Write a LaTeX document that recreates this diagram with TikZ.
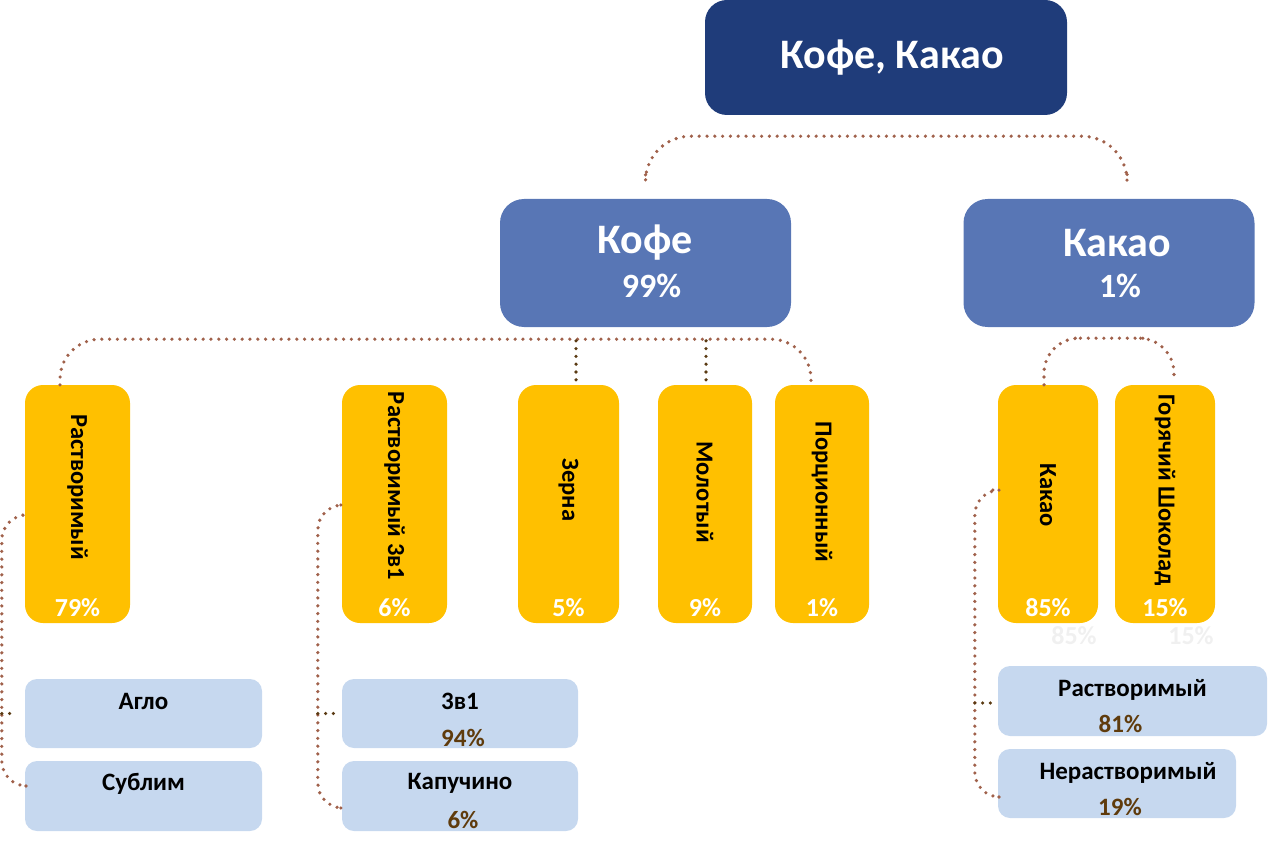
\documentclass[tikz,border=0pt]{standalone}
\usepackage{fontspec}
\setmainfont{Carlito}
\usepackage{tikz}
\definecolor{navy}{HTML}{1F3C7A}
\definecolor{midblue}{HTML}{5876B5}
\definecolor{amber}{HTML}{FFC000}
\definecolor{paleblue}{HTML}{C6D8EF}
\definecolor{dotbrown}{HTML}{A0614B}
\definecolor{stubbrown}{HTML}{5A3A12}
\definecolor{pctbrown}{HTML}{5F3B0C}

\begin{document}
\begin{tikzpicture}[x=1pt,y=-1pt,
    topbox/.style={rectangle,rounded corners=22,fill=navy,minimum width=362,minimum height=115},
    groupbox/.style={rectangle,rounded corners=24,fill=midblue,minimum width=291,minimum height=128},
    catbox/.style={rectangle,rounded corners=18,fill=amber,minimum height=238},
    subbox/.style={rectangle,rounded corners=12,fill=paleblue},
    bigtext/.style={text=white,font=\bfseries\fontsize{42}{48}\selectfont},
    midtext/.style={text=white,font=\bfseries\fontsize{34}{40}\selectfont},
    vtext/.style={rotate=-90,font=\bfseries\fontsize{24.5}{30}\selectfont},
    cattext/.style={text=white,font=\bfseries\fontsize{26}{30}\selectfont},
    subtext/.style={font=\bfseries\fontsize{25}{30}\selectfont},
    subpct/.style={text=pctbrown,font=\bfseries\fontsize{25}{30}\selectfont},
    link/.style={draw=dotbrown,line width=3.6,line cap=round,dash pattern=on 0pt off 7.8pt},
    stub/.style={link,draw=stubbrown}]
    \useasboundingbox (0,0) rectangle (1268,850);
    % top level
    \node[topbox] (top) at (886,57.5) {};
    \node[bigtext] at ([xshift=6]top.center) {Кофе, Какао};
    % second level
    \node[groupbox] (kofe) at (645.5,263) {};
    \node[groupbox] (kakao) at (1109,263) {};
    \node[bigtext] at ([yshift=20]kofe.center) {Кофе};
    \node[midtext] at ([xshift=6,yshift=-23]kofe.center) {99\%};
    \node[bigtext] at ([xshift=8,yshift=20]kakao.center) {Какао};
    \node[midtext] at ([xshift=11,yshift=-23]kakao.center) {1\%};
    % categories
    \node[catbox,minimum width=105] (rast) at (77.5,504) {};
    \node[catbox,minimum width=105] (rast3) at (394.5,504) {};
    \node[catbox,minimum width=101] (zerna) at (568.5,504) {};
    \node[catbox,minimum width=94] (molot) at (705,504) {};
    \node[catbox,minimum width=94] (porc) at (822,504) {};
    \node[catbox,minimum width=100] (kakaoy) at (1048,504) {};
    \node[catbox,minimum width=100] (shok) at (1165,504) {};
    \node[vtext] at ([yshift=17]rast.center) {Растворимый};
    \node[vtext] at ([yshift=18]rast3.center) {Растворимый 3в1};
    \node[vtext] at ([yshift=14]zerna.center) {Зерна};
    \node[vtext] at ([yshift=12]molot.center) {Молотый};
    \node[vtext] at ([yshift=12]porc.center) {Порционный};
    \node[vtext] at ([yshift=9]kakaoy.center) {Какао};
    \node[vtext] at ([yshift=14]shok.center) {Горячий Шоколад};
    \node[cattext] at ([yshift=16]rast.south) {79\%};
    \node[cattext] at ([yshift=16]rast3.south) {6\%};
    \node[cattext] at ([yshift=16]zerna.south) {5\%};
    \node[cattext] at ([yshift=16]molot.south) {9\%};
    \node[cattext] at ([yshift=16]porc.south) {1\%};
    \node[cattext] at ([yshift=16]kakaoy.south) {85\%};
    \node[cattext] at ([yshift=16]shok.south) {15\%};
    \node[cattext,text=black!6] at ([xshift=26,yshift=-12]kakaoy.south) {85\%};
    \node[cattext,text=black!6] at ([xshift=26,yshift=-12]shok.south) {15\%};
    % sub types
    \node[subbox,minimum width=237,minimum height=69] (aglo) at (143.5,713.5) {};
    \node[subbox,minimum width=237,minimum height=70] (sub) at (143.5,796) {};
    \node[subbox,minimum width=236,minimum height=69] (v31) at (460,713.5) {};
    \node[subbox,minimum width=236,minimum height=70] (kap) at (460,796) {};
    \node[subbox,minimum width=269,minimum height=70] (rastk) at (1132.5,701) {};
    \node[subbox,minimum width=238,minimum height=69] (nerast) at (1117,783.5) {};
    \node[subtext] at ([yshift=-23]aglo.north) {Агло};
    \node[subtext] at ([yshift=-23]sub.north) {Сублим};
    \node[subtext] at ([yshift=-23]v31.north) {3в1};
    \node[subpct] at ([xshift=3,yshift=-59]v31.north) {94\%};
    \node[subtext] at ([yshift=-23]kap.north) {Капучино};
    \node[subpct] at ([xshift=3,yshift=-59]kap.north) {6\%};
    \node[subtext] at ([yshift=-24]rastk.north) {Растворимый};
    \node[subpct] at ([xshift=-12,yshift=-58]rastk.north) {81\%};
    \node[subtext] at ([xshift=11,yshift=-24]nerast.north) {Нерастворимый};
    \node[subpct] at ([xshift=3,yshift=-58]nerast.north) {19\%};
    % connectors
    \coordinate (kofebar) at ([yshift=-12]kofe.south);
    \coordinate (kakaobar) at ([yshift=-11]kakao.south);
    \draw[link,rounded corners=45] ([yshift=24]kofe.north) |- ([yshift=-21]top.south)
        -| ([xshift=18,yshift=27]kakao.north);
    \draw[link,rounded corners=40] ([xshift=-17.5]rast.north) |- (kofebar)
        -| ([xshift=-11,yshift=3]porc.north);
    \draw[stub] ([xshift=7.5,yshift=5]zerna.north) -- ([xshift=7.5]zerna.north |- kofebar);
    \draw[stub] ([xshift=1,yshift=5]molot.north) -- ([xshift=1]molot.north |- kofebar);
    \draw[link,rounded corners=35] ([xshift=-4]kakaoy.north) |- (kakaobar)
        -| ([xshift=9,yshift=3]shok.north);
    \draw[link,rounded corners=25] ([xshift=-2,yshift=-11]rast.west) -| ([xshift=-23,yshift=10]sub.west)
        -- ([xshift=-2,yshift=10]sub.west);
    \draw[stub] ([xshift=-23]aglo.west) -- ([xshift=-8]aglo.west);
    \draw[link,rounded corners=25] ([xshift=-1,yshift=-1]rast3.west) -| ([xshift=-24,yshift=-12]kap.west)
        -- ([xshift=-1,yshift=-12]kap.west);
    \draw[stub] ([xshift=-24]v31.west) -- ([xshift=-4]v31.west);
    \draw[link,rounded corners=25] ([xshift=-5,yshift=14]kakaoy.west) -| ([xshift=-23,yshift=-13.5]nerast.west)
        -- ([xshift=-1,yshift=-13.5]nerast.west);
    \draw[stub] ([xshift=-23,yshift=-2]rastk.west) -- ([xshift=-5,yshift=-2]rastk.west);
\end{tikzpicture}
\end{document}
